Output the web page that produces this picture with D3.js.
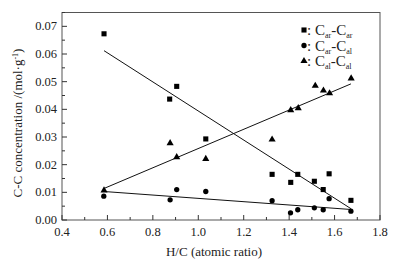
<!DOCTYPE html>
<html><head><meta charset="utf-8">
<script src="https://cdn.jsdelivr.net/npm/d3@7"></script>
<style>body{margin:0;background:#fff}svg{display:block}</style>
</head><body>
<svg id="c" width="400" height="260" font-family="'Liberation Serif', serif"></svg>
<script>
// Data
const hcSquare = [0.585,0.874,0.905,1.033,1.325,1.407,1.438,1.511,1.55,1.576,1.672];
const arAr     = [0.0673,0.0437,0.0483,0.0293,0.0165,0.0136,0.0165,0.0140,0.0110,0.0167,0.0071];
const hcCircle = [0.584,0.876,0.905,1.033,1.325,1.406,1.438,1.511,1.55,1.576,1.672];
const arAl     = [0.0086,0.0073,0.0110,0.0103,0.0070,0.0026,0.0037,0.0044,0.0037,0.0077,0.0032];
const hcTri    = [0.585,0.876,0.905,1.033,1.325,1.407,1.44,1.515,1.551,1.578,1.673];
const alAl     = [0.0107,0.0278,0.0227,0.0221,0.0291,0.0397,0.0404,0.0485,0.0468,0.0458,0.0512];
// fitted lines (endpoints)
const fitX     = [0.585,1.672];
const fitArAr  = [0.0612,0.0041];
const fitArAl  = [0.0103,0.0038];
const fitAlAl  = [0.0114,0.0492];
const xTicks = [0.4,0.6,0.8,1.0,1.2,1.4,1.6,1.8];
const yTicks = [0,0.01,0.02,0.03,0.04,0.05,0.06,0.07];

const svg = d3.select("#c");
const L=62,R=380,T=12.5,B=220;
const x = d3.scaleLinear().domain([0.4,1.8]).range([L,R]);
const y = d3.scaleLinear().domain([0,0.075]).range([B,T]);

// frame
svg.append("rect").attr("x",L).attr("y",T).attr("width",R-L).attr("height",B-T)
  .attr("fill","none").attr("stroke","#555").attr("stroke-width",1);

// ticks (inside)
const gx = svg.append("g").attr("fill","#222");
d3.range(0.4,1.8001,0.1).forEach((v,i)=>{
  const major = i%2===0;
  gx.append("line").attr("x1",x(v)).attr("x2",x(v)).attr("y1",B).attr("y2",B-(major?5:3)).attr("stroke","#333");
});
xTicks.forEach(v=>{
  gx.append("text").attr("x",x(v)).attr("y",236).attr("text-anchor","middle").attr("font-size",12.5).text(v.toFixed(1));
});
d3.range(0,0.0751,0.005).forEach((v,i)=>{
  const major = i%2===0;
  gx.append("line").attr("y1",y(v)).attr("y2",y(v)).attr("x1",L).attr("x2",L+(major?5:3)).attr("stroke","#333");
});
yTicks.forEach(v=>{
  gx.append("text").attr("x",L-5).attr("y",y(v)+4).attr("text-anchor","end").attr("font-size",12.5).text(v.toFixed(2));
});

// axis titles
svg.append("text").attr("x",214).attr("y",256).attr("text-anchor","middle").attr("font-size",13).attr("fill","#222").text("H/C (atomic ratio)");
const yt = svg.append("text").attr("transform","translate(22,123) rotate(-90)").attr("text-anchor","middle").attr("font-size",13).attr("fill","#222");
yt.append("tspan").text("C-C concentration /(mol·g");
yt.append("tspan").attr("baseline-shift","super").attr("font-size",8).text("-1");
yt.append("tspan").text(")");

// fit lines
const line = d3.line().x(d=>x(d[0])).y(d=>y(d[1]));
[fitArAr,fitArAl,fitAlAl].forEach(f=>{
  svg.append("path").attr("d",line(fitX.map((v,i)=>[v,f[i]]))).attr("fill","none").attr("stroke","#111").attr("stroke-width",1);
});

// markers
const sq = d3.symbol().type(d3.symbolSquare).size(26);
const ci = d3.symbol().type(d3.symbolCircle).size(22);
const tr = d3.symbol().type(d3.symbolTriangle).size(22);
function pts(xs,ys,sym){
  svg.append("g").selectAll("path").data(xs.map((v,i)=>[v,ys[i]])).join("path")
    .attr("d",sym).attr("transform",d=>`translate(${x(d[0])},${y(d[1])})`).attr("fill","#000");
}
pts(hcSquare,arAr,sq);
pts(hcCircle,arAl,ci);
pts(hcTri,alAl,tr);

// legend
const legend = [
  {sym:sq,a:"ar",b:"ar"},
  {sym:ci,a:"ar",b:"al"},
  {sym:tr,a:"al",b:"al"}
];
legend.forEach((d,i)=>{
  const yy = 30+i*15.5;
  svg.append("path").attr("d",d.sym).attr("transform",`translate(304,${yy})`).attr("fill","#000");
  const t = svg.append("text").attr("x",307).attr("y",yy+5).attr("font-size",15).attr("fill","#222");
  t.append("tspan").text(": C");
  t.append("tspan").attr("font-size",8).attr("dy",3).text(d.a);
  t.append("tspan").attr("dy",-3).text("-C");
  t.append("tspan").attr("font-size",8).attr("dy",3).text(d.b);
});
</script>
</body></html>
